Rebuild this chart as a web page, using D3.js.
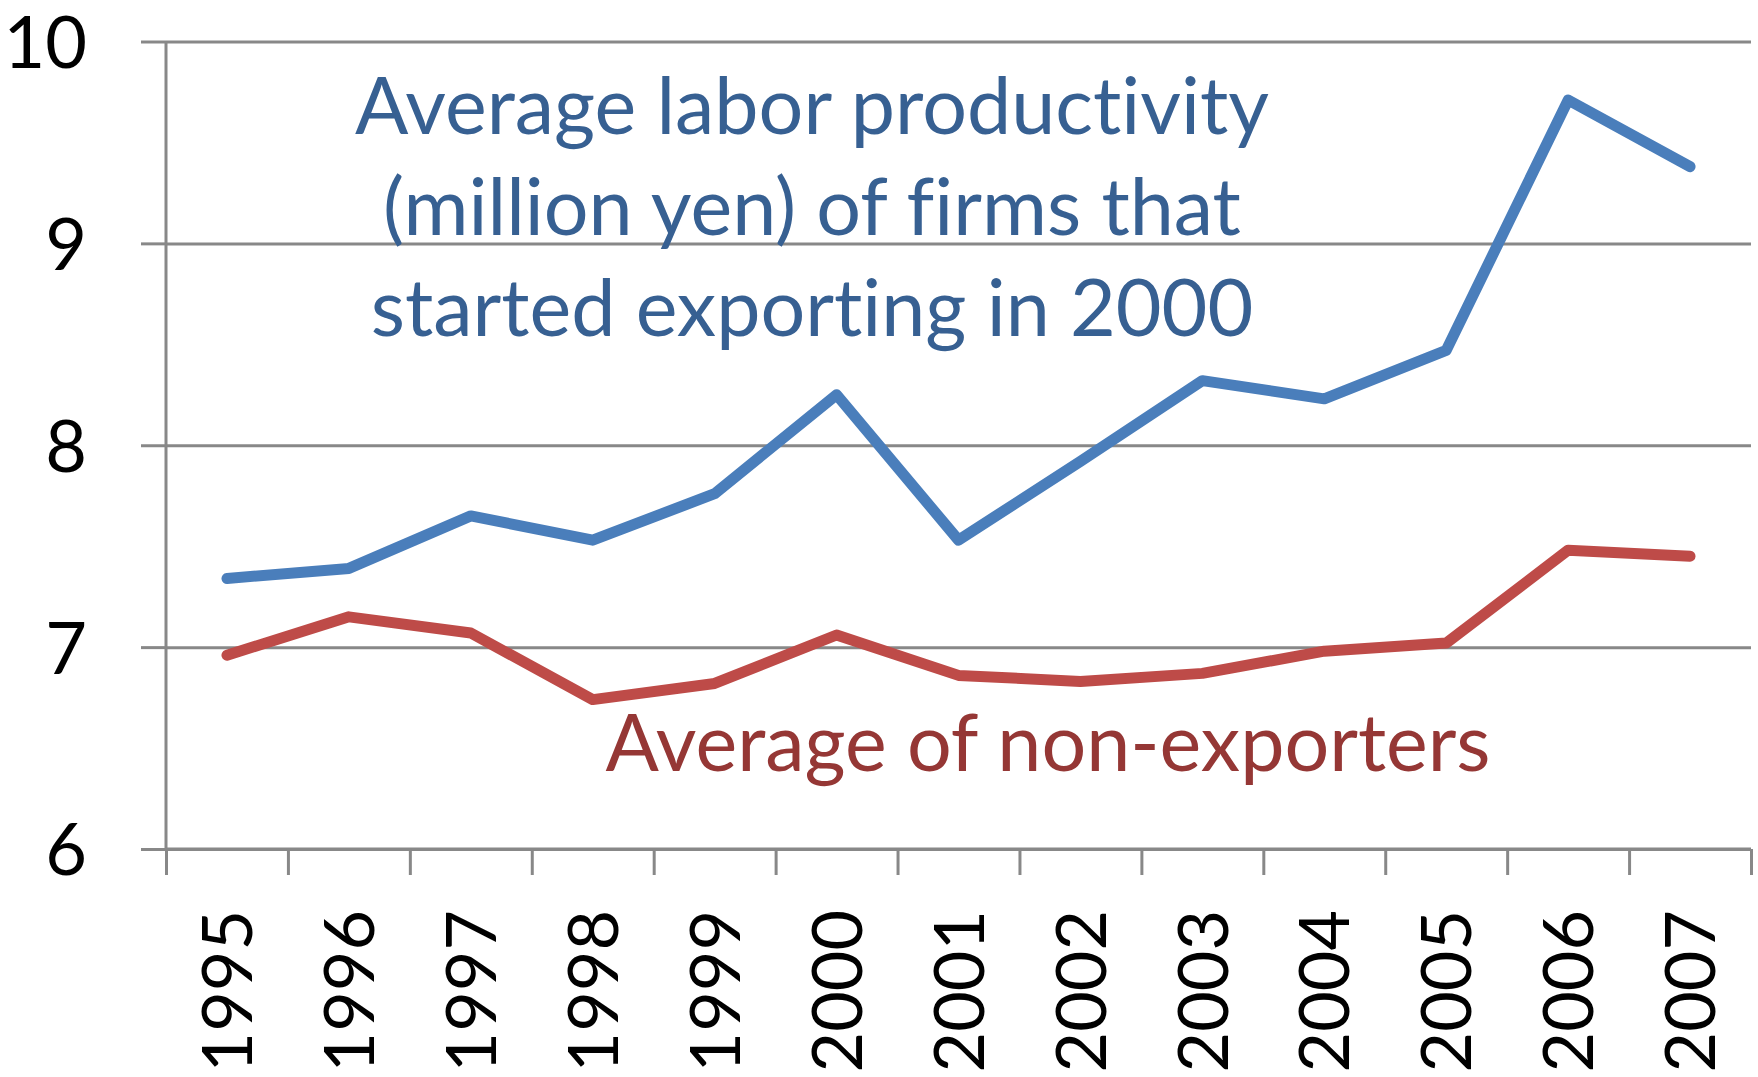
<!DOCTYPE html>
<html><head><meta charset="utf-8">
<script src="https://cdn.jsdelivr.net/npm/d3@7"></script>
<style>
html,body{margin:0;padding:0;background:#fff;}
svg{display:block;}
text{font-variant-ligatures:none;}
</style></head>
<body>
<svg id="chart" width="1758" height="1077"></svg>
<script>
const years = ["1995","1996","1997","1998","1999","2000","2001","2002","2003","2004","2005","2006","2007"];
const newExporters = [7.34,7.39,7.65,7.53,7.76,8.25,7.53,7.92,8.32,8.23,8.47,9.71,9.38];
const nonExporters = [6.96,7.15,7.07,6.74,6.82,7.06,6.86,6.83,6.87,6.98,7.02,7.48,7.45];
const yTicks = [6,7,8,9,10];
const labelNew = ["Average labor productivity","(million yen) of firms that","started exporting in 2000"];
const labelNon = "Average of non-exporters";

const W = 1758, H = 1077;
const m = {left:166, right:W-1751, top:41.5, bottom:H-849};
const pw = W - m.left - m.right, ph = H - m.top - m.bottom;
const svg = d3.select("#chart");
const g = svg.append("g").attr("transform",`translate(${m.left},${m.top})`);
const font = "Lato, 'Open Sans', sans-serif";
const gridCol = "#888888";

const x = d3.scaleBand().domain(years).range([0,pw]).padding(0);
const xb = d3.scaleLinear().domain([0,years.length]).range([0,pw]);
const y = d3.scaleLinear().domain([6,10]).range([ph,0]);

// gridlines
const grid = g.append("g").call(d3.axisLeft(y).tickValues(yTicks).tickSize(-pw).tickFormat(""));
grid.select(".domain").remove();
grid.selectAll(".tick line").attr("stroke",gridCol).attr("stroke-width",3);

// y axis
const ya = g.append("g").call(d3.axisLeft(y).tickValues(yTicks).tickFormat(d3.format("d")).tickSize(25).tickPadding(54));
ya.select(".domain").attr("stroke",gridCol).attr("stroke-width",3).attr("d",`M0,${ph}V0`);
ya.selectAll(".tick line").attr("stroke",gridCol).attr("stroke-width",3);
ya.selectAll(".tick text").attr("font-family",font).attr("font-size",72).attr("fill","#000").attr("dy","0.36em");

// x axis tick marks
const xa = g.append("g").attr("transform",`translate(0,${ph})`)
  .call(d3.axisBottom(xb).tickValues(d3.range(0,years.length+1)).tickSize(26).tickFormat(""));
xa.select(".domain").attr("stroke",gridCol).attr("stroke-width",3).attr("d",`M0,0H${pw}`);
xa.selectAll(".tick line").attr("stroke",gridCol).attr("stroke-width",3);

// x labels
const xl = g.append("g").attr("transform",`translate(0,${ph})`)
  .call(d3.axisBottom(x).tickSize(0).tickPadding(0));
xl.select(".domain").remove();
xl.selectAll(".tick text")
  .attr("font-family",font).attr("font-size",70).attr("fill","#000")
  .attr("text-anchor","end")
  .attr("transform","rotate(-90)")
  .attr("x",-61).attr("y",0).attr("dy","0.36em");

// lines
const line = d3.line().x((d,i)=>x(years[i])+x.bandwidth()/2).y(d=>y(d));
g.append("path").datum(nonExporters).attr("d",line).attr("fill","none")
  .attr("stroke","#BE4B48").attr("stroke-width",11).attr("stroke-linejoin","round").attr("stroke-linecap","round");
g.append("path").datum(newExporters).attr("d",line).attr("fill","none")
  .attr("stroke","#4A7EBB").attr("stroke-width",11).attr("stroke-linejoin","round").attr("stroke-linecap","round");

// annotations
const tb = svg.append("text").attr("font-family",font).attr("font-size",79).attr("fill","#376092").attr("text-anchor","middle");
labelNew.forEach((t,i)=>{
  tb.append("tspan").attr("x",812).attr("y",134+i*101).text(t);
});
svg.append("text").attr("font-family",font).attr("font-size",79).attr("fill","#953735")
  .attr("text-anchor","middle").attr("x",1048).attr("y",771).text(labelNon);
</script>
</body></html>
